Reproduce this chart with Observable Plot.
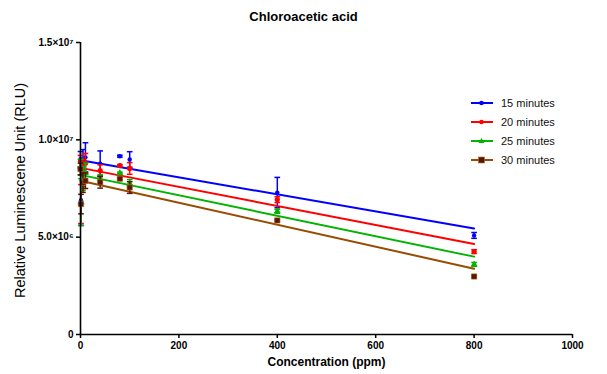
<!DOCTYPE html>
<html><head><meta charset="utf-8">
<script src="https://cdn.jsdelivr.net/npm/d3@7"></script>
<script src="https://cdn.jsdelivr.net/npm/@observablehq/plot@0.6"></script>
<style>
body{margin:0;background:#fff;font-family:"Liberation Sans",Arial,sans-serif;}
#wrap{position:relative;width:607px;height:374px;}
#title{position:absolute;left:0;width:607px;top:9px;text-align:center;font-weight:bold;font-size:13px;color:#000;}
#legend{position:absolute;left:470px;top:93px;font-size:11px;color:#111;}
#legend .row{display:flex;align-items:center;height:19px;}
#legend svg{margin-right:7px;}
</style></head><body>
<div id="wrap"><div id="title">Chloroacetic acid</div><div id="legend"></div></div>
<script>
const conc = [0, 1, 5, 10, 40, 80, 100, 400, 800];
const series = ["15 minutes", "20 minutes", "25 minutes", "30 minutes"];
const mean15 = [9.0e6, 6.9e6, 8.5e6, 9.1e6, 8.78e6, 9.16e6, 8.99e6, 7.29e6, 5.09e6];
const err15  = [0.4e6, 1.3e6, 1.0e6, 0.75e6, 0.65e6, 0.05e6, 0.4e6, 0.78e6, 0.15e6];
const mean20 = [8.9e6, 6.7e6, 8.3e6, 8.8e6, 8.42e6, 8.68e6, 8.53e6, 6.93e6, 4.26e6];
const err20  = [0.3e6, 1.0e6, 0.7e6, 0.5e6, 0.3e6, 0.05e6, 0.3e6, 0.15e6, 0.1e6];
const mean25 = [8.6e6, 6.8e6, 8.0e6, 8.3e6, 8.01e6, 8.29e6, 7.76e6, 6.33e6, 3.6e6];
const err25  = [0.4e6, 1.2e6, 0.6e6, 0.5e6, 0.2e6, 0.05e6, 0.2e6, 0.1e6, 0.1e6];
const mean30 = [8.5e6, 6.7e6, 7.8e6, 7.9e6, 7.82e6, 8.0e6, 7.55e6, 5.86e6, 2.98e6];
const err30  = [0.3e6, 0.5e6, 0.5e6, 0.4e6, 0.3e6, 0.05e6, 0.3e6, 0.05e6, 0.05e6];
const fitX  = [0, 800];
const fit15 = [8.95e6, 5.45e6];
const fit20 = [8.56e6, 4.65e6];
const fit25 = [8.2e6, 4.0e6];
const fit30 = [7.9e6, 3.38e6];
const yTicks = [0, 5e6, 1e7, 1.5e7];
const yTickLabels = ["0", "5.0×10⁶", "1.0×10⁷", "1.5×10⁷"];
const xTicks = [0, 200, 400, 600, 800, 1000];

const lineColors = ["#0000ff", "#ff0000", "#00b400", "#994c00"];
const markColors = ["#0000ff", "#ff0000", "#00b400", "#5a1600"];
const symbols = ["circle", "circle", "triangle", "square"];
const sizes = [2.2, 2.6, 2.6, 3];

const means = [mean15, mean20, mean25, mean30];
const errs = [err15, err20, err25, err30];
const fits = [fit15, fit20, fit25, fit30];

const pts = [], fitRows = [];
series.forEach((s, i) => {
  conc.forEach((c, j) => pts.push({s, i, x: c, y: means[i][j], lo: means[i][j] - errs[i][j], hi: means[i][j] + errs[i][j]}));
  fitX.forEach((c, j) => fitRows.push({s, i, x: c, y: fits[i][j]}));
});

const capSym = {draw(ctx, size){ const r = Math.sqrt(size) ; ctx.moveTo(-r, 0); ctx.lineTo(r, 0); }};

const marks = [];
series.forEach((s, i) => {
  const p = pts.filter(d => d.i === i);
  marks.push(Plot.line(fitRows.filter(d => d.i === i), {x: "x", y: "y", stroke: lineColors[i], strokeWidth: 2}));
  marks.push(Plot.ruleX(p, {x: "x", y1: "lo", y2: "hi", stroke: markColors[i], strokeWidth: 1.5}));
  marks.push(Plot.dot(p, {x: "x", y: "lo", symbol: capSym, r: 1.6, stroke: markColors[i], strokeWidth: 1.5}));
  marks.push(Plot.dot(p, {x: "x", y: "hi", symbol: capSym, r: 1.6, stroke: markColors[i], strokeWidth: 1.5}));
  marks.push(Plot.dot(p, {x: "x", y: "y", symbol: symbols[i], r: sizes[i], fill: markColors[i], stroke: i === 3 ? "#b07030" : "none", strokeWidth: 0.6}));
});

const chart = Plot.plot({
  width: 607, height: 374,
  marginLeft: 80, marginRight: 35, marginTop: 42, marginBottom: 40,
  style: {fontFamily: "'Liberation Sans', Arial, sans-serif", background: "transparent"},
  x: {domain: [0, 1000], ticks: xTicks, label: null},
  y: {domain: [0, 1.5e7], ticks: yTicks, label: null},
  marks: [
    ...marks,
    Plot.ruleY([0], {stroke: "#000", strokeWidth: 1.6}),
    Plot.ruleX([0], {stroke: "#000", strokeWidth: 1.6}),
    Plot.axisX({ticks: xTicks, tickSize: 4, tickPadding: 3, fontWeight: "bold", fontSize: 10, stroke: "#000", strokeWidth: 1.5, color: "#000", label: null, tickFormat: d => String(d)}),
    Plot.axisY({ticks: yTicks, tickSize: 4, tickPadding: 3, fontWeight: "bold", fontSize: 10, stroke: "#000", strokeWidth: 1.5, color: "#000", label: null, tickFormat: d => yTickLabels[yTicks.indexOf(d)]}),
    Plot.text(["Concentration (ppm)"], {frameAnchor: "bottom", dy: 31, fontWeight: "bold", fontSize: 12, fill: "#000"}),
    Plot.text(["Relative Luminescene Unit (RLU)"], {frameAnchor: "left", dx: -60, dy: 2, rotate: -90, textAnchor: "middle", fontSize: 14.5, fill: "#000"})
  ]
});
chart.style.position = "absolute";
chart.style.left = "0"; chart.style.top = "0";
const wrap = document.getElementById("wrap");
wrap.insertBefore(chart, wrap.firstChild);

const leg = document.getElementById("legend");
series.forEach((s, i) => {
  const row = document.createElement("div"); row.className = "row";
  const sym = symbols[i] === "square" ? `<rect x="8.5" y="4" width="6" height="6" fill="${markColors[i]}" stroke="#b07030" stroke-width="0.6"/>`
    : symbols[i] === "triangle" ? `<path d="M11.5,4 L14.5,9 L8.5,9Z" fill="${markColors[i]}"/>`
    : `<circle cx="11.5" cy="7" r="2.3" fill="${markColors[i]}"/>`;
  row.innerHTML = `<svg width="24" height="14"><line x1="1" x2="23" y1="7" y2="7" stroke="${lineColors[i]}" stroke-width="2"/>${sym}</svg><span>${s}</span>`;
  leg.appendChild(row);
});
</script>
</body></html>
